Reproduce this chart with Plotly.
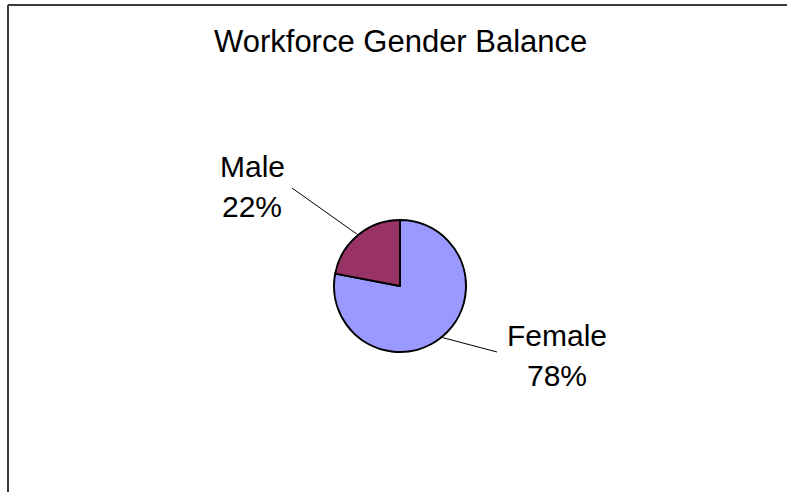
import math
import plotly.graph_objects as go

# Workforce split by gender
categories = ["Female", "Male"]
shares = [78, 22]
colors = ["#9999FF", "#993366"]

W, H = 787, 492
CX, CY, R = 400, 286, 66          # pie centre and radius in pixels
FONT = "Liberation Sans, Arial, sans-serif"

# where each label block sits (pixel centre of first line) and where its leader ends
label_pos = {"Male": (252, 167), "Female": (557, 335)}
leader_end = {"Male": (292, 188), "Female": (497, 352)}
LINE_GAP = 40


def px(x):
    return x / W


def py(y):
    return 1 - y / H


fig = go.Figure(
    go.Pie(
        labels=categories,
        values=shares,
        sort=False,
        direction="clockwise",
        rotation=0,
        marker=dict(colors=colors, line=dict(color="#000000", width=2)),
        textinfo="none",
        hoverinfo="label+percent",
        showlegend=False,
        domain=dict(x=[px(CX - R), px(CX + R)], y=[py(CY + R), py(CY - R)]),
    )
)

shapes = []
annotations = []
total = sum(shares)
start = 0.0
for cat, val in zip(categories, shares):
    frac = val / total
    mid = (start + frac / 2) * 2 * math.pi      # clockwise from 12 o'clock
    start += frac
    sx = CX + (R + 1) * math.sin(mid)
    sy = CY - (R + 1) * math.cos(mid)
    ex, ey = leader_end[cat]
    shapes.append(dict(type="line", xref="paper", yref="paper",
                       x0=px(sx), y0=py(sy), x1=px(ex), y1=py(ey),
                       line=dict(color="#000000", width=1)))
    lx, ly = label_pos[cat]
    pct = round(frac * 100)
    for i, line in enumerate([cat, f"{pct}%"]):
        annotations.append(dict(xref="paper", yref="paper",
                                x=px(lx), y=py(ly + i * LINE_GAP),
                                xanchor="center", yanchor="middle",
                                text=line, showarrow=False,
                                font=dict(family=FONT, size=30, color="#000000")))

# chart title
annotations.append(dict(xref="paper", yref="paper", x=px(401), y=py(42),
                        xanchor="center", yanchor="middle",
                        text="Workforce Gender Balance", showarrow=False,
                        font=dict(family=FONT, size=31, color="#000000")))

# chart frame (top and left edges)
shapes.append(dict(type="line", xref="paper", yref="paper",
                   x0=px(8), y0=py(5), x1=1, y1=py(5),
                   line=dict(color="#3a3a3a", width=2)))
shapes.append(dict(type="line", xref="paper", yref="paper",
                   x0=px(8), y0=py(5), x1=px(8), y1=0,
                   line=dict(color="#3a3a3a", width=2)))

fig.update_layout(
    width=W, height=H,
    margin=dict(l=0, r=0, t=0, b=0),
    paper_bgcolor="#ffffff",
    plot_bgcolor="#ffffff",
    shapes=shapes,
    annotations=annotations,
)

fig.write_html("out.html")
